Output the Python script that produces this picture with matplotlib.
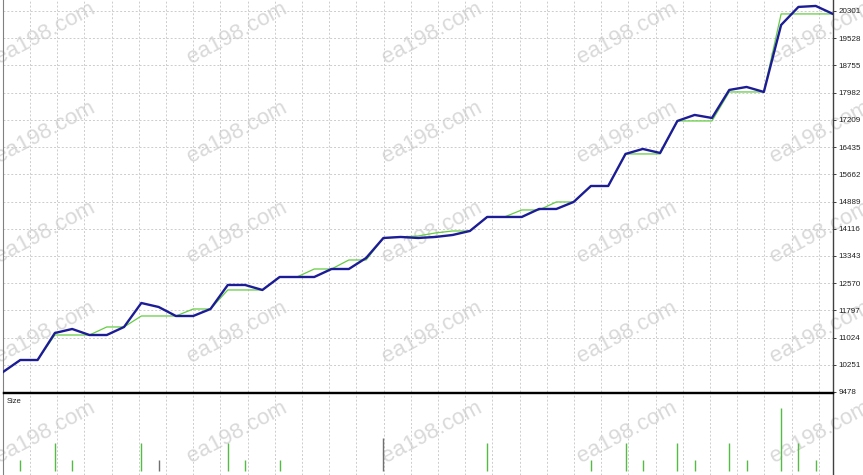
import matplotlib
matplotlib.use('Agg')
import matplotlib.pyplot as plt
import numpy as np

# equity (thick blue) and balance (thin green), one value per trade
equity = [10046, 10387, 10387, 11154, 11268, 11097, 11097, 11325, 12006, 11893,
          11637, 11637, 11836, 12518, 12518, 12376, 12745, 12745, 12745, 12972,
          12972, 13285, 13853, 13882, 13853, 13882, 13938, 14052, 14450, 14450,
          14450, 14677, 14677, 14876, 15330, 15330, 16240, 16382, 16268, 17177,
          17348, 17262, 18058, 18143, 18001, 19904, 20416, 20444, 20217]
balance = [10046, 10387, 10387, 11097, 11097, 11097, 11325, 11325, 11637, 11637,
           11637, 11836, 11836, 12376, 12376, 12376, 12745, 12745, 12972, 12972,
           13228, 13228, 13853, 13882, 13910, 13995, 14052, 14052, 14450, 14450,
           14649, 14649, 14876, 14876, 15330, 15330, 16240, 16240, 16240, 17177,
           17177, 17177, 18001, 18001, 18001, 20217, 20217, 20217, 20217]

size_trades = [1, 3, 4, 8, 9, 13, 14, 16, 22, 28, 34, 36, 37, 39, 40, 42, 43, 45, 46, 47]
size_values = [0.10, 0.26, 0.10, 0.26, 0.10, 0.26, 0.10, 0.10, 0.31, 0.26,
               0.10, 0.26, 0.10, 0.26, 0.10, 0.26, 0.10, 0.58, 0.26, 0.10]

ytick_labels = ['9478', '10251', '11024', '11797', '12570', '13343', '14116', '14889',
                '15662', '16435', '17209', '17982', '18755', '19528', '20301']

W, H = 863, 475
fig = plt.figure(figsize=(W / 100, H / 100), dpi=100)
fig.patch.set_facecolor('white')

ax = fig.add_axes([3 / W, (H - 392) / H, 830 / W, 392 / H])
ax2 = fig.add_axes([3 / W, 0, 830 / W, (H - 393) / H])

x = np.arange(len(equity))
grid_x = 1.561 + 1.573 * np.arange(30)
yt = [float(v) for v in ytick_labels]

ax.plot(x, balance, color='#66cc44', lw=0.9, zorder=3)
ax.plot(x, equity, color='#1c1c96', lw=1.7, zorder=4)
ax.set_xlim(0, 48)
ax.set_ylim(9478, 20613)
ax.set_yticks(yt)
ax.set_yticklabels(ytick_labels, family='Liberation Sans')
ax.set_xticks([])
for gx in grid_x:
    ax.axvline(gx, color='#cccccc', lw=0.7, ls=(0, (2, 2)), zorder=1)
for gy in yt[1:]:
    ax.axhline(gy, color='#cccccc', lw=0.7, ls=(0, (2, 2)), zorder=1)

ax2.vlines(size_trades, 0, size_values,
           colors=['#707070' if t in (9, 22) else '#55bb44' for t in size_trades],
           lw=1.0, zorder=3)
ax2.set_xlim(0, 48)
ax2.set_ylim(-0.035, 0.72)
ax2.set_xticks([])
ax2.set_yticks([])
for gx in grid_x:
    ax2.axvline(gx, color='#cccccc', lw=0.7, ls=(0, (2, 2)), zorder=1)
ax2.text(0.004, 0.94, 'Size', transform=ax2.transAxes, fontsize=5.5,
         va='top', ha='left', color='#202020', family='Liberation Sans')

for a in (ax, ax2):
    a.set_facecolor('none')
    a.spines['top'].set_visible(False)
    a.spines['left'].set_color('#808080')
    a.spines['right'].set_color('#404040')
    a.spines['right'].set_linewidth(1.0)
    a.spines['bottom'].set_visible(False)
    a.yaxis.tick_right()
ax.spines['bottom'].set_visible(True)
ax.spines['bottom'].set_color('black')
ax.spines['bottom'].set_linewidth(1.0)
ax2.spines['top'].set_visible(True)
ax2.spines['top'].set_color('black')
ax2.spines['top'].set_linewidth(1.0)
ax.tick_params(axis='y', right=True, left=False, length=2, width=0.6,
               labelsize=5.8, pad=2, colors='#202020')

# watermark, drawn underneath the axes
for wy in [33, 132, 232, 332, 432]:
    for wx in [45, 237, 432, 627, 820]:
        fig.text(wx / W, 1 - wy / H, 'ea198.com', fontsize=16, color='#d9d9d9',
                 rotation=28, ha='center', va='center', zorder=-1,
                 family='Liberation Sans')

fig.savefig('out.png', dpi=100, facecolor='white')
